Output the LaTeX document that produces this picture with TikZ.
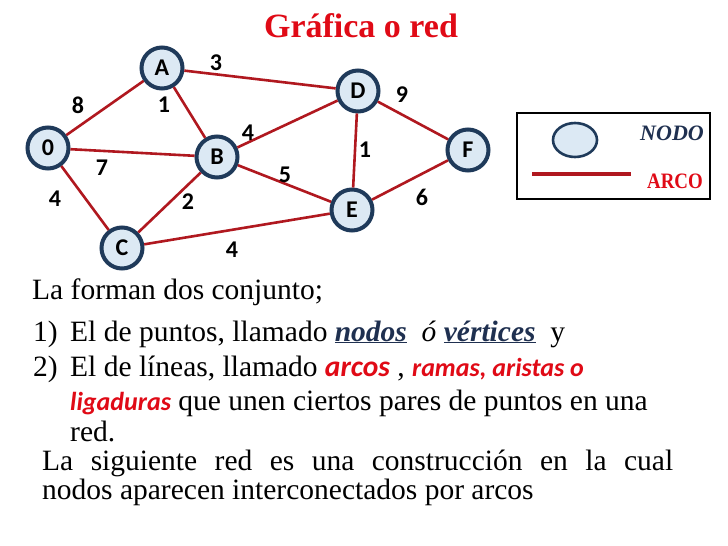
\documentclass[tikz,border=0pt]{standalone}
\usepackage{fontspec}
\setmainfont{Liberation Serif}
\newfontfamily\calib{Carlito}
\usetikzlibrary{shapes.geometric}
\definecolor{arcred}{HTML}{B0181F}
\definecolor{nodefill}{HTML}{DCE9F4}
\definecolor{nodeborder}{HTML}{1F3A5A}
\definecolor{titlered}{HTML}{E00A16}
\definecolor{navy}{HTML}{1F3050}
\newcommand{\fs}[1]{\fontsize{#1}{#1}\selectfont}
\begin{document}
\begin{tikzpicture}[x=1pt,y=-1pt,
  vert/.style={circle, draw=nodeborder, fill=nodefill, line width=4pt, minimum size=41pt, inner sep=0pt, font=\calib\bfseries\fontsize{24pt}{24pt}\selectfont},
  arc/.style={draw=arcred, line width=2.6pt},
  wlab/.style={font=\calib\bfseries\fontsize{24pt}{24pt}\selectfont, inner sep=0pt},
  body/.style={anchor=base west, inner sep=0pt, font=\fs{29.5}},
]
\useasboundingbox[fill=white] (0,0) rectangle (728,546);
% title
\node (title) [anchor=base, inner sep=0pt, text=titlered, font=\bfseries\fs{34}] at (361,37) {Gráfica o red};
% vertices
\node (A) [vert] at (162,68) {A};
\node (D) [vert] at (358,91) {D};
\node (O) [vert] at (48,148) {0};
\node (B) [vert] at (217,157) {B};
\node (F) [vert] at (468,150) {F};
\node (E) [vert] at (352,210) {E};
\node (C) [vert] at (122,248) {C};
% arcs
\draw[arc] (O) -- (A);
\draw[arc] (A) -- (D);
\draw[arc] (A) -- (B);
\draw[arc] (O) -- (B);
\draw[arc] (O) -- (C);
\draw[arc] (C) -- (B);
\draw[arc] (B) -- (D);
\draw[arc] (B) -- (E);
\draw[arc] (D) -- (E);
\draw[arc] (D) -- (F);
\draw[arc] (E) -- (F);
\draw[arc] (C) -- (E);
% weights
\node (w8) [wlab] at (78,105) {8};
\node (w3) [wlab] at (216,63) {3};
\node (w1a) [wlab] at (164,105) {1};
\node (w9) [wlab] at (402,95) {9};
\node (w4a) [wlab] at (248,133) {4};
\node (w1b) [wlab] at (365,150) {1};
\node (w7) [wlab] at (102,168) {7};
\node (w5) [wlab] at (285,175) {5};
\node (w4b) [wlab] at (55,199) {4};
\node (w2) [wlab] at (188,202) {2};
\node (w6) [wlab] at (422,197) {6};
\node (w4c) [wlab] at (232,250) {4};
% legend
\node (legend) [draw=black, line width=1.2pt, minimum width=193pt, minimum height=86pt, inner sep=0pt] at (613.5,156) {};
\node (lnode) [ellipse, draw=nodeborder, fill=nodefill, line width=2.6pt, minimum width=44pt, minimum height=34pt, inner sep=0pt] at (575,140) {};
\coordinate (l1) at (532,174);
\coordinate (l2) at (631,174);
\draw[arc, line width=4pt] (l1) -- (l2);
\node (nodo) [inner sep=0pt, anchor=base, text=navy, font=\bfseries\itshape\fs{22}] at (672,140) {NODO};
\node (arco) [inner sep=0pt, anchor=base, text=titlered, font=\bfseries\fs{22}] at (675,188) {\scalebox{0.86}[1]{ARCO}};
% body text
\node (t0) [body] at (32,299) {La forman dos conjunto;};
\node (n1) [body] at (33,341) {1)};
\node (t1) [body] at (70,341) {El de puntos, llamado \textcolor{navy}{\bfseries\itshape\underline{nodos}}\ \ \textit{ó} \textcolor{navy}{\bfseries\itshape\underline{vértices}}\ \ y};
\node (n2) [body] at (33,376) {2)};
\node (t2) [body] at (70,376) {El de líneas, llamado \textcolor{titlered}{\calib\bfseries\itshape\fs{29.5}arcos} , \textcolor{titlered}{\calib\bfseries\itshape\fs{26}ramas, aristas o}};
\node (t3) [body] at (70,410) {\textcolor{titlered}{\calib\bfseries\itshape\fs{26}ligaduras} que unen ciertos pares de puntos en una};
\node (t4) [body] at (70,441) {red.};
\node (t5) [body] at (42,470) {\makebox[631pt][s]{La siguiente red es una construcción en la cual}};
\node (t6) [body] at (42,499) {nodos aparecen interconectados por arcos};
\end{tikzpicture}
\end{document}
